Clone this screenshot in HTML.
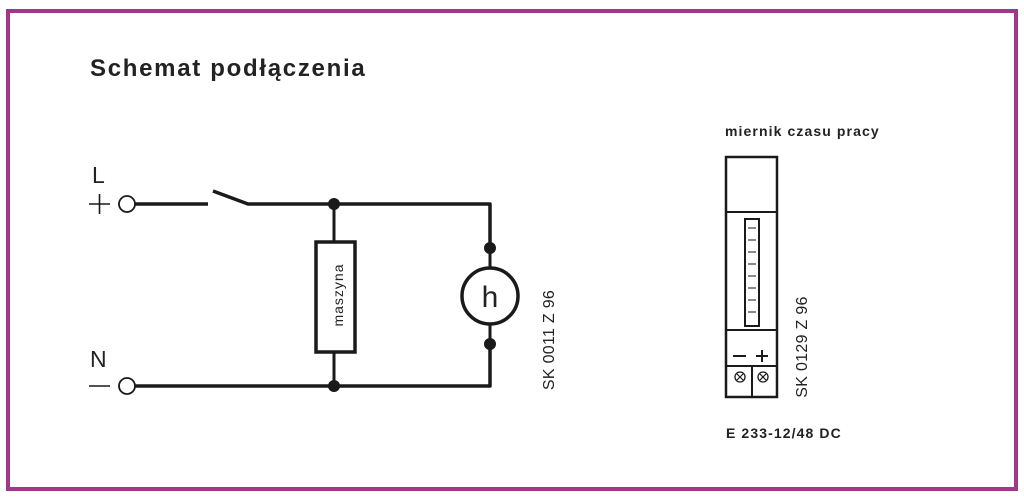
<!DOCTYPE html>
<html><head><meta charset="utf-8"><style>
html,body{margin:0;padding:0;background:#fff;}
svg{display:block;font-family:"Liberation Sans",Arial,sans-serif;}
</style></head><body>
<svg width="1024" height="500" viewBox="0 0 1024 500" xmlns="http://www.w3.org/2000/svg">
<rect x="8" y="11" width="1008" height="478" fill="none" stroke="#a2368a" stroke-width="4"/>
<text x="90" y="76" font-size="24" font-weight="bold" letter-spacing="1.7" fill="#222">Schemat podłączenia</text>
<g stroke="#1a1a1a" fill="none">
<text x="92" y="183" font-size="23" fill="#222" stroke="none">L</text>
<path d="M89 204H110M99.5 194V214" stroke-width="1.6"/>
<circle cx="127" cy="204" r="8" stroke-width="1.8"/>
<path d="M135 204H208M213 191L248 204H490V248M490 344V386H135" stroke-width="3.5" stroke-linejoin="round"/>
<text x="90" y="367" font-size="23" fill="#222" stroke="none">N</text>
<path d="M89 386H110" stroke-width="1.6"/>
<circle cx="127" cy="386" r="8" stroke-width="1.8"/>
<path d="M334 204V242M334 352V386" stroke-width="3"/>
<rect x="316" y="242" width="39" height="110" stroke-width="3.5"/>
<circle cx="490" cy="296" r="28" stroke-width="3.5"/>
<path d="M490 248V268M490 324V344" stroke-width="3"/>
</g>
<g fill="#1a1a1a">
<circle cx="334" cy="204" r="6"/><circle cx="334" cy="386" r="6"/>
<circle cx="490" cy="248" r="6"/><circle cx="490" cy="344" r="6"/>
</g>
<text x="490" y="307" font-size="30" text-anchor="middle" fill="#222">h</text>
<text transform="translate(343,295) rotate(-90)" font-size="14" letter-spacing="1" text-anchor="middle" fill="#222">maszyna</text>
<text transform="translate(554,340) rotate(-90)" font-size="16" letter-spacing="0.3" text-anchor="middle" fill="#222">SK 0011 Z 96</text>
<text x="725" y="136" font-size="14" font-weight="bold" letter-spacing="1.1" fill="#222">miernik czasu pracy</text>
<g stroke="#1a1a1a" fill="none">
<rect x="726" y="157" width="51" height="240" stroke-width="2.5"/>
<path d="M726 212H777M726 330H777M752 366V397M727 366H777" stroke-width="2"/>
<rect x="745" y="219" width="14" height="107" stroke-width="2"/>
<path d="M748 228H756M748 240H756M748 252H756M748 264H756M748 276H756M748 288H756M748 300H756M748 312H756" stroke-width="1"/>
<path d="M733 356H746M756 356H768M762 350V362" stroke-width="2"/>
<circle cx="740" cy="377" r="5" stroke-width="1.3"/><path d="M737 374L743 380M743 374L737 380" stroke-width="1.2"/>
<circle cx="763" cy="377" r="5" stroke-width="1.3"/><path d="M760 374L766 380M766 374L760 380" stroke-width="1.2"/>
</g>
<text transform="translate(807,347) rotate(-90)" font-size="16" letter-spacing="0.3" text-anchor="middle" fill="#222">SK 0129 Z 96</text>
<text x="726" y="438" font-size="14" font-weight="bold" letter-spacing="1.1" fill="#222">E 233-12/48 DC</text>
</svg>
</body></html>
